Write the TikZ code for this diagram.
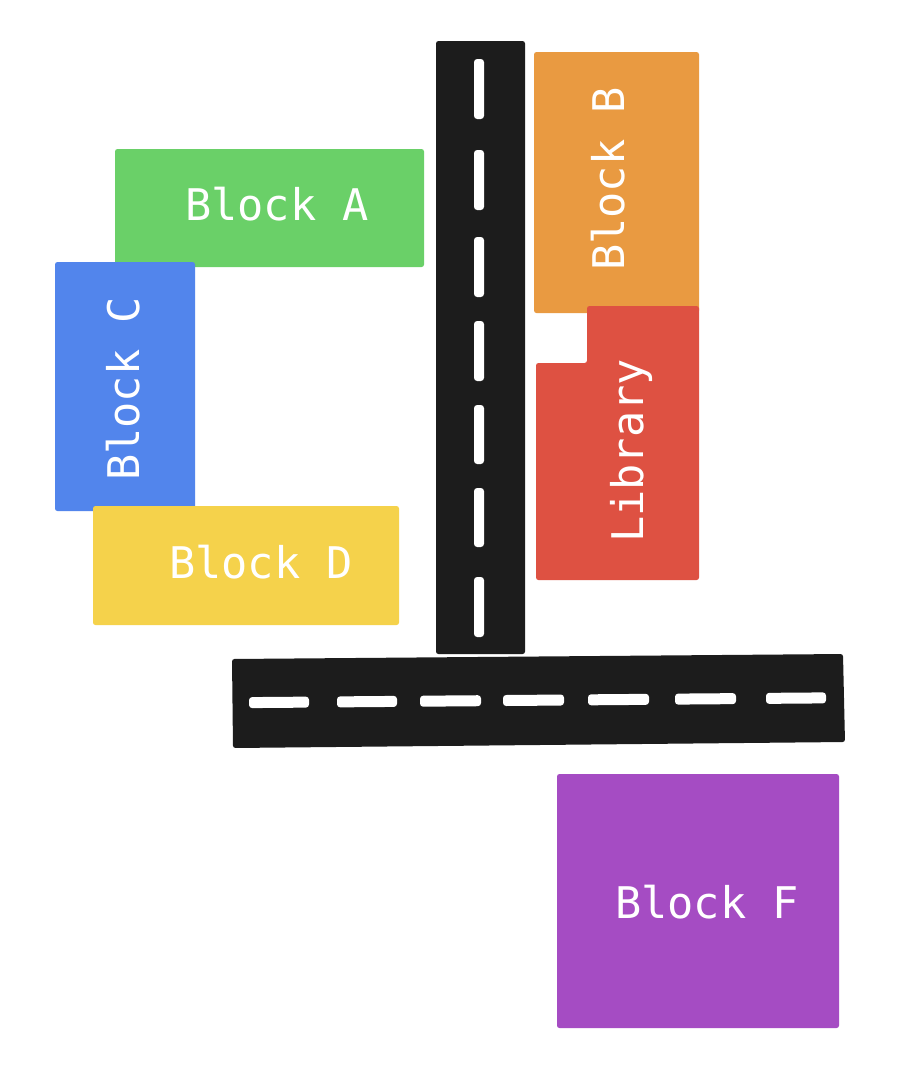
\documentclass[tikz,border=0pt]{standalone}
\usepackage{fontspec}
\newfontfamily\blockfont{DejaVu Sans Mono}
\definecolor{cA}{HTML}{6AD068}
\definecolor{cB}{HTML}{E99A41}
\definecolor{cLib}{HTML}{DE5142}
\definecolor{cC}{HTML}{5285EC}
\definecolor{cD}{HTML}{F5D24B}
\definecolor{cF}{HTML}{A54CC3}
\definecolor{roadc}{HTML}{1C1C1C}
\begin{document}
\begin{tikzpicture}[x=0.01cm,y=-0.01cm,
  blk/.style={rounded corners=0.7pt},
  lbl/.style={text=white,font=\blockfont\fontsize{12.4}{15}\selectfont,inner sep=0pt,text height=9.0pt,text depth=0pt,anchor=center},
  roadbox/.style={fill=roadc,rounded corners=0.7pt},
  dashmark/.style={fill=white,rounded corners=0.9pt}]
\useasboundingbox[fill=white] (0,0) rectangle (904,1078);
% blocks
\fill[cA,blk] (115,149) rectangle (424,267);
\node[lbl] (la) at (277,205) {Block A};
\fill[cC,blk] (55,262) rectangle (195,511);
\node[lbl,rotate=90] (lc) at (124,389) {Block C};
\fill[cD,blk] (93,506) rectangle (399,625);
\node[lbl] (ld) at (261,563) {Block D};
\fill[cB,blk] (534,52) rectangle (699,313);
\node[lbl,rotate=90] (lb) at (609,179) {Block B};
\fill[cLib,blk] (587,306) -- (699,306) -- (699,580) -- (536,580) -- (536,363) -- (587,363) -- cycle;
\node[lbl,rotate=90] (llib) at (628,451) {Library};
\fill[cF,blk] (557,774) rectangle (839,1028);
\node[lbl] (lf) at (707,903) {Block F};
% vertical road
\fill[roadbox] (436,41) rectangle (525,654);
\foreach \a/\b in {59/119,150/210,237/297,321/381,405/464,488/547,577/637}
  \fill[dashmark] (474,\a) rectangle (484,\b);
% horizontal road
\fill[roadbox] (232,659) -- (843,654) -- (845,742) -- (233,748) -- cycle;
\foreach \a/\b in {249/309,337/397,420/481,503/564,588/649,675/736,766/826}
  \fill[dashmark] (\a,{697.1-(\a-249)*0.0082}) -- (\b,{697.1-(\b-249)*0.0082})
     -- (\b,{708.1-(\b-249)*0.0082}) -- (\a,{708.1-(\a-249)*0.0082}) -- cycle;
\end{tikzpicture}
\end{document}
